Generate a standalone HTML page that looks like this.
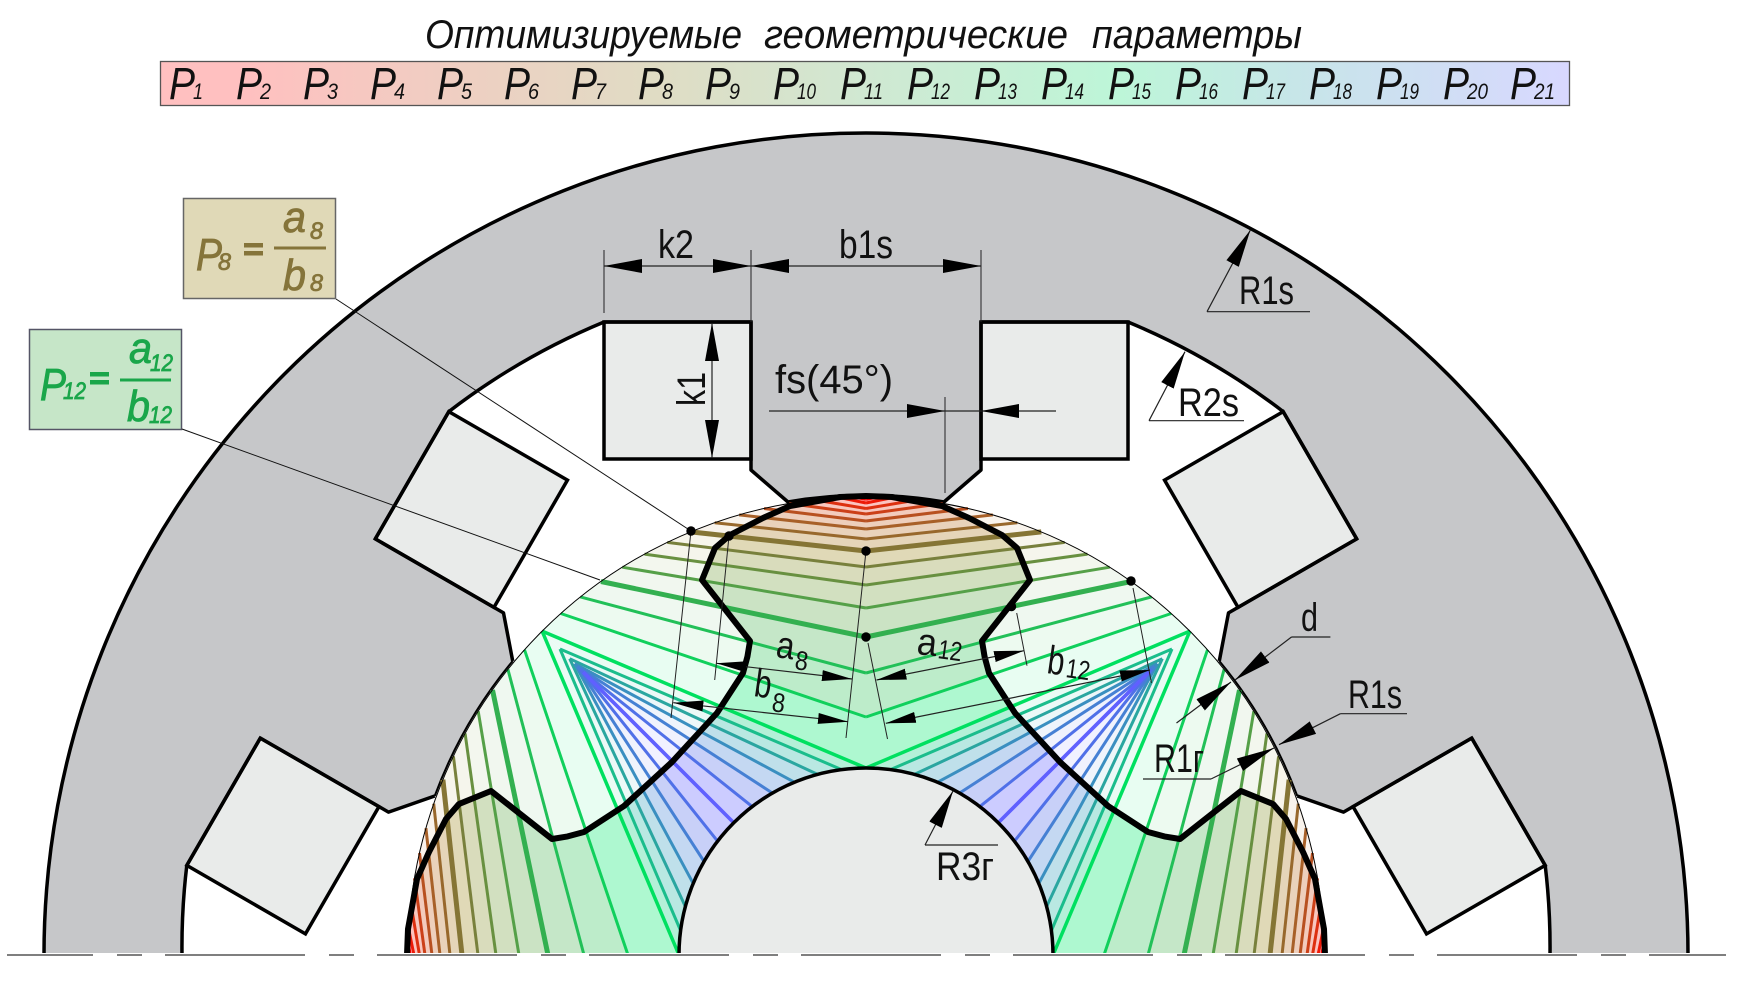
<!DOCTYPE html>
<html><head><meta charset="utf-8"><style>
html,body{margin:0;padding:0;background:#fff}
svg{display:block}
text{font-family:"Liberation Sans","Noto Sans CJK SC",sans-serif;fill:#111}
.i{font-style:italic}
.P{font-style:italic;font-size:45px}
.S{font-style:italic;font-size:22px}
.d{font-size:40px}
.o{fill:#85743a;stroke:#85743a;stroke-width:.8;font-style:italic}
.g{fill:#1aa64a;stroke:#1aa64a;stroke-width:.8;font-style:italic}
.e{stroke:#222;stroke-width:1;fill:none}
.m{stroke:#222;stroke-width:1.2;fill:none}
</style></head><body>
<svg width="1742" height="986" viewBox="0 0 1742 986" xmlns="http://www.w3.org/2000/svg">
<defs>
<linearGradient id="bar"><stop offset="0" stop-color="#ffc0c0"/><stop offset=".06" stop-color="#ffc0c0"/><stop offset=".35" stop-color="#e0dcc4"/><stop offset=".5" stop-color="#d0e8d2"/><stop offset=".68" stop-color="#bdf6d8"/><stop offset=".82" stop-color="#c8e4ea"/><stop offset="1" stop-color="#d8d8ff"/></linearGradient>
<marker id="a" markerUnits="userSpaceOnUse" markerWidth="40" markerHeight="20" refX="38" refY="10" orient="auto-start-reverse" viewBox="0 0 40 20"><path d="M0,3L38,10L0,17Z" fill="#000"/></marker>
<marker id="b" markerUnits="userSpaceOnUse" markerWidth="32" markerHeight="16" refX="30" refY="8" orient="auto-start-reverse" viewBox="0 0 32 16"><path d="M0,2.5L30,8L0,13.5Z" fill="#000"/></marker>
<g id="coil"><path d="M-262,-633H-115V-496H-262Z" fill="#e9ebea" stroke="#000" stroke-width="3.5"/><path d="M115,-633H262V-496H115Z" fill="#e9ebea" stroke="#000" stroke-width="3.5"/></g>
<g id="bands">
<path fill="#ffc0c0" d="M0,-458L-25.7,-457.3L0,-452Z"/>
<path fill="#fcc3bf" d="M0,-452L-25.7,-457.3A458,458 0 0 0 -51.3,-455.1L0,-446.5Z"/>
<path fill="#f8c7be" d="M0,-446.5L-51.3,-455.1A458,458 0 0 0 -76.7,-451.5L0,-441Z"/>
<path fill="#f3cbbd" d="M0,-441L-76.7,-451.5A458,458 0 0 0 -101.9,-446.5L0,-434Z"/>
<path fill="#eecfbc" d="M0,-434L-101.9,-446.5A458,458 0 0 0 -126.8,-440.1L0,-426Z"/>
<path fill="#e9d2bb" d="M0,-426L-126.8,-440.1A458,458 0 0 0 -151.3,-432.3L0,-416Z"/>
<path fill="#e5d5b9" d="M0,-416L-151.3,-432.3A458,458 0 0 0 -175.3,-423.1L0,-404Z"/>
<path fill="#e0d9b7" d="M0,-404L-175.3,-423.1A458,458 0 0 0 -198.7,-412.6L0,-388Z"/>
<path fill="#d9dcbc" d="M0,-388L-198.7,-412.6A458,458 0 0 0 -221.5,-400.9L0,-370Z"/>
<path fill="#d2e0c0" d="M0,-370L-221.5,-400.9A458,458 0 0 0 -243.7,-387.8L0,-347Z"/>
<path fill="#cbe3c4" d="M0,-347L-243.7,-387.8A458,458 0 0 0 -265,-373.5L0,-318Z"/>
<path fill="#c5e7c8" d="M0,-318L-265,-373.5A458,458 0 0 0 -285.6,-358.1L0,-282Z"/>
<path fill="#bdecca" d="M0,-282L-285.6,-358.1A458,458 0 0 0 -305.2,-341.5L0,-238Z"/>
<path fill="#aef8d0" d="M0,-238L-305.2,-341.5A458,458 0 0 0 -323.9,-323.9L0,-187Z"/>
<path fill="#b4f0d8" d="M0,-187L-323.9,-323.9L-306,-306L-24.4,-185.4Z"/>
<path fill="#b9e8e2" d="M-24.4,-185.4L-306,-306L-296.3,-296.3L-48.4,-180.6Z"/>
<path fill="#bfe0ea" d="M-48.4,-180.6L-296.3,-296.3L-291.3,-291.3L-71.6,-172.8Z"/>
<path fill="#c4d8f2" d="M-71.6,-172.8L-291.3,-291.3L-288.5,-288.5L-93.5,-161.9Z"/>
<path fill="#c8d0f8" d="M-93.5,-161.9L-288.5,-288.5L-285.7,-285.7L-113.8,-148.4Z"/>
<path fill="#ccccff" d="M-113.8,-148.4L-285.7,-285.7L-282.8,-282.8L-132.2,-132.2Z"/>
</g>
<g id="lines" fill="none" stroke-width="3">
<path stroke="#ff0000" stroke-width="3.5" d="M0,-456L-10,-457.8"/>
<path stroke="#ee1a08" d="M0,-452L-25.7,-457.3"/>
<path stroke="#dd3010" d="M0,-446.5L-51.3,-455.1"/>
<path stroke="#cc4018" d="M0,-441L-76.7,-451.5"/>
<path stroke="#b85020" d="M0,-434L-101.9,-446.5"/>
<path stroke="#a86028" d="M0,-426L-126.8,-440.1"/>
<path stroke="#98682c" d="M0,-416L-151.3,-432.3"/>
<path stroke="#857535" stroke-width="5" d="M0,-404L-175.3,-423.1"/>
<path stroke="#78803c" d="M0,-388L-198.7,-412.6"/>
<path stroke="#689040" d="M0,-370L-221.5,-400.9"/>
<path stroke="#55a048" d="M0,-347L-243.7,-387.8"/>
<path stroke="#33b050" stroke-width="5" d="M0,-318L-265,-373.5"/>
<path stroke="#22c058" d="M0,-282L-285.6,-358.1"/>
<path stroke="#10d05c" d="M0,-238L-305.2,-341.5"/>
<path stroke="#00e060" stroke-width="3.5" d="M0,-187L-323.9,-323.9"/>
<path stroke="#1bbd8c" d="M-24.4,-185.4L-306,-306"/>
<path stroke="#2aa6a0" d="M-48.4,-180.6L-296.3,-296.3"/>
<path stroke="#3a8fc0" d="M-71.6,-172.8L-291.3,-291.3"/>
<path stroke="#4680d4" d="M-93.5,-161.9L-288.5,-288.5"/>
<path stroke="#5070e8" d="M-113.8,-148.4L-285.7,-285.7"/>
<path stroke="#6060ff" stroke-width="3.5" d="M-132.2,-132.2L-282.8,-282.8"/>
</g>
</defs>

<text class="i" x="425" y="48" font-size="40" textLength="317" lengthAdjust="spacingAndGlyphs">Оптимизируемые</text>
<text class="i" x="764" y="48" font-size="40" textLength="304" lengthAdjust="spacingAndGlyphs">геометрические</text>
<text class="i" x="1092" y="48" font-size="40" textLength="210" lengthAdjust="spacingAndGlyphs">параметры</text>

<rect x="160.5" y="61.5" width="1409" height="44" fill="url(#bar)" stroke="#555" stroke-width="1.3"/>
<g>
<text class="P" x="169" y="99" textLength="26" lengthAdjust="spacingAndGlyphs">P</text><text class="S" x="193" y="99" textLength="10" lengthAdjust="spacingAndGlyphs">1</text>
<text class="P" x="236" y="99" textLength="26" lengthAdjust="spacingAndGlyphs">P</text><text class="S" x="260" y="99" textLength="11" lengthAdjust="spacingAndGlyphs">2</text>
<text class="P" x="303" y="99" textLength="26" lengthAdjust="spacingAndGlyphs">P</text><text class="S" x="327" y="99" textLength="11" lengthAdjust="spacingAndGlyphs">3</text>
<text class="P" x="370" y="99" textLength="26" lengthAdjust="spacingAndGlyphs">P</text><text class="S" x="394" y="99" textLength="11" lengthAdjust="spacingAndGlyphs">4</text>
<text class="P" x="437" y="99" textLength="26" lengthAdjust="spacingAndGlyphs">P</text><text class="S" x="461" y="99" textLength="11" lengthAdjust="spacingAndGlyphs">5</text>
<text class="P" x="504" y="99" textLength="26" lengthAdjust="spacingAndGlyphs">P</text><text class="S" x="528" y="99" textLength="11" lengthAdjust="spacingAndGlyphs">6</text>
<text class="P" x="571" y="99" textLength="26" lengthAdjust="spacingAndGlyphs">P</text><text class="S" x="595" y="99" textLength="11" lengthAdjust="spacingAndGlyphs">7</text>
<text class="P" x="638" y="99" textLength="26" lengthAdjust="spacingAndGlyphs">P</text><text class="S" x="662" y="99" textLength="11" lengthAdjust="spacingAndGlyphs">8</text>
<text class="P" x="705" y="99" textLength="26" lengthAdjust="spacingAndGlyphs">P</text><text class="S" x="729" y="99" textLength="11" lengthAdjust="spacingAndGlyphs">9</text>
<text class="P" x="773" y="99" textLength="26" lengthAdjust="spacingAndGlyphs">P</text><text class="S" x="797" y="99" textLength="19" lengthAdjust="spacingAndGlyphs">10</text>
<text class="P" x="840" y="99" textLength="26" lengthAdjust="spacingAndGlyphs">P</text><text class="S" x="864" y="99" textLength="19" lengthAdjust="spacingAndGlyphs">11</text>
<text class="P" x="907" y="99" textLength="26" lengthAdjust="spacingAndGlyphs">P</text><text class="S" x="931" y="99" textLength="19" lengthAdjust="spacingAndGlyphs">12</text>
<text class="P" x="974" y="99" textLength="26" lengthAdjust="spacingAndGlyphs">P</text><text class="S" x="998" y="99" textLength="19" lengthAdjust="spacingAndGlyphs">13</text>
<text class="P" x="1041" y="99" textLength="26" lengthAdjust="spacingAndGlyphs">P</text><text class="S" x="1065" y="99" textLength="19" lengthAdjust="spacingAndGlyphs">14</text>
<text class="P" x="1108" y="99" textLength="26" lengthAdjust="spacingAndGlyphs">P</text><text class="S" x="1132" y="99" textLength="19" lengthAdjust="spacingAndGlyphs">15</text>
<text class="P" x="1175" y="99" textLength="26" lengthAdjust="spacingAndGlyphs">P</text><text class="S" x="1199" y="99" textLength="19" lengthAdjust="spacingAndGlyphs">16</text>
<text class="P" x="1242" y="99" textLength="26" lengthAdjust="spacingAndGlyphs">P</text><text class="S" x="1266" y="99" textLength="19" lengthAdjust="spacingAndGlyphs">17</text>
<text class="P" x="1309" y="99" textLength="26" lengthAdjust="spacingAndGlyphs">P</text><text class="S" x="1333" y="99" textLength="19" lengthAdjust="spacingAndGlyphs">18</text>
<text class="P" x="1376" y="99" textLength="26" lengthAdjust="spacingAndGlyphs">P</text><text class="S" x="1400" y="99" textLength="19" lengthAdjust="spacingAndGlyphs">19</text>
<text class="P" x="1443" y="99" textLength="26" lengthAdjust="spacingAndGlyphs">P</text><text class="S" x="1467" y="99" textLength="21" lengthAdjust="spacingAndGlyphs">20</text>
<text class="P" x="1510" y="99" textLength="26" lengthAdjust="spacingAndGlyphs">P</text><text class="S" x="1534" y="99" textLength="21" lengthAdjust="spacingAndGlyphs">21</text>
</g>

<g transform="translate(866,955)">
<!-- stator -->
<path fill="#c6c7c9" d="M-822,0A822,822 0 0 1 822,0L684,0A685,685 0 0 0 679.2,-89.6L605.7,-216.9L477.5,-142.9L431.3,-159A461,461 0 0 0 353.3,-294L362.5,-342.1L490.7,-416.1L417.2,-543.4A685,685 0 0 0 262,-633L115,-633L115,-485L78,-453A461,461 0 0 0 -78,-453L-115,-485L-115,-633L-262,-633A685,685 0 0 0 -417.2,-543.4L-490.7,-416.1L-362.5,-342.1L-353.3,-294A461,461 0 0 0 -431.3,-159L-477.5,-142.9L-605.7,-216.9L-679.2,-89.6A685,685 0 0 0 -684,0Z"/>
<use href="#coil"/>
<use href="#coil" transform="rotate(-60)"/>
<use href="#coil" transform="rotate(60)"/>
<path fill="none" stroke="#000" stroke-width="3.5" d="M-822,0A822,822 0 0 1 822,0"/>
<path fill="none" stroke="#000" stroke-width="3.5" stroke-linejoin="round" d="M684,0A685,685 0 0 0 679.2,-89.6L605.7,-216.9L477.5,-142.9L431.3,-159M353.3,-294L362.5,-342.1L490.7,-416.1L417.2,-543.4A685,685 0 0 0 262,-633L115,-633L115,-485L78,-453A461,461 0 0 0 -78,-453L-115,-485L-115,-633L-262,-633A685,685 0 0 0 -417.2,-543.4L-490.7,-416.1L-362.5,-342.1L-353.3,-294M-431.3,-159L-477.5,-142.9L-605.7,-216.9L-679.2,-89.6A685,685 0 0 0 -684,0"/>
<path fill="none" stroke="#000" stroke-width="2" d="M431.3,-159A461,461 0 0 0 353.3,-294M-353.3,-294A461,461 0 0 0 -431.3,-159"/>

<!-- rotor bands -->
<use href="#bands"/>
<use href="#bands" transform="matrix(-1,0,0,1,0,0)"/>
<use href="#bands" transform="matrix(0,1,1,0,0,0)"/>
<use href="#bands" transform="matrix(0,1,-1,0,0,0)"/>
<path fill="#fff" fill-opacity=".72" fill-rule="evenodd" d="M-458,0A458,458 0 0 1 458,0ZM-459,0L-458,-26L-454,-48L-449,-76L-437,-103L-420,-136L-407,-151L-375,-164L-314,-116L-298.3,-118.6L-282,-123L-242,-149L-194,-193L-149,-242L-123,-282L-118.6,-298.3L-116,-314L-164,-375L-151,-407L-136,-420L-103,-437L-76,-449L-48,-454L-26,-458L0,-459L26,-458L48,-454L76,-449L103,-437L136,-420L151,-407L164,-375L116,-314L118.6,-298.3L123,-282L149,-242L194,-193L242,-149L282,-123L298.3,-118.6L314,-116L375,-164L407,-151L420,-136L437,-103L449,-76L454,-48L458,-26L459,0Z"/>
<use href="#lines"/>
<use href="#lines" transform="matrix(-1,0,0,1,0,0)"/>
<use href="#lines" transform="matrix(0,1,1,0,0,0)"/>
<use href="#lines" transform="matrix(0,1,-1,0,0,0)"/>
<path fill="none" stroke="#000" stroke-width="1" d="M-458,0A458,458 0 0 1 458,0"/>
<path fill="#e9ebea" stroke="#000" stroke-width="3.5" d="M-187,0A187,187 0 0 1 187,0Z"/>
<path fill="none" stroke="#000" stroke-width="6" stroke-linejoin="round" stroke-linecap="round" d="M-459,0L-458,-26L-454,-48L-449,-76L-437,-103L-420,-136L-407,-151L-375,-164L-314,-116L-298.3,-118.6L-282,-123L-242,-149L-194,-193L-149,-242L-123,-282L-118.6,-298.3L-116,-314L-164,-375L-151,-407L-136,-420L-103,-437L-76,-449L-48,-454L-26,-458L0,-459L26,-458L48,-454L76,-449L103,-437L136,-420L151,-407L164,-375L116,-314L118.6,-298.3L123,-282L149,-242L194,-193L242,-149L282,-123L298.3,-118.6L314,-116L375,-164L407,-151L420,-136L437,-103L449,-76L454,-48L458,-26L459,0"/>
</g>

<!-- below-axis cleanup and centre line -->
<rect x="0" y="957" width="1742" height="29" fill="#fff"/>
<line x1="7" y1="955" x2="1726" y2="955" stroke="#fff" stroke-width="4"/>
<line x1="7" y1="955" x2="1726" y2="955" stroke="#555" stroke-width="1.6" stroke-dasharray="140 24 25 23" stroke-dashoffset="54"/>

<!-- callouts -->
<rect x="183.5" y="198.5" width="152" height="100" fill="#e0d9b7" stroke="#666" stroke-width="1.5"/>
<text class="o" x="196" y="270" font-size="45" textLength="26" lengthAdjust="spacingAndGlyphs">P</text>
<text class="o" x="218" y="270" font-size="24" textLength="13" lengthAdjust="spacingAndGlyphs">8</text>
<rect x="244" y="243" width="19" height="4.5" fill="#85743a"/><rect x="244" y="251" width="19" height="4.5" fill="#85743a"/>
<rect x="274" y="246.5" width="52" height="3" fill="#85743a"/>
<text class="o" x="283" y="232" font-size="44" textLength="23" lengthAdjust="spacingAndGlyphs">a</text>
<text class="o" x="310" y="239" font-size="24" textLength="13" lengthAdjust="spacingAndGlyphs">8</text>
<text class="o" x="283" y="290" font-size="44" textLength="23" lengthAdjust="spacingAndGlyphs">b</text>
<text class="o" x="310" y="291" font-size="24" textLength="13" lengthAdjust="spacingAndGlyphs">8</text>

<rect x="29.5" y="329.5" width="152" height="100" fill="#c6e6c8" stroke="#556" stroke-width="1.5"/>
<text class="g" x="40" y="400" font-size="45" textLength="26" lengthAdjust="spacingAndGlyphs">P</text>
<text class="g" x="63" y="399" font-size="24" textLength="23" lengthAdjust="spacingAndGlyphs">12</text>
<rect x="90" y="372" width="19" height="4.5" fill="#1aa64a"/><rect x="90" y="380" width="19" height="4.5" fill="#1aa64a"/>
<rect x="120" y="378.5" width="51" height="3" fill="#1aa64a"/>
<text class="g" x="129" y="363" font-size="44" textLength="23" lengthAdjust="spacingAndGlyphs">a</text>
<text class="g" x="150" y="371" font-size="24" textLength="23" lengthAdjust="spacingAndGlyphs">12</text>
<text class="g" x="127" y="421" font-size="44" textLength="23" lengthAdjust="spacingAndGlyphs">b</text>
<text class="g" x="149" y="423" font-size="24" textLength="23" lengthAdjust="spacingAndGlyphs">12</text>

<line x1="336" y1="299" x2="691" y2="531" stroke="#111" stroke-width="1"/>
<line x1="182" y1="429" x2="600" y2="580" stroke="#111" stroke-width="1"/>

<!-- top dimensions -->
<path class="e" d="M604,250V313M751,250V322M981,250V322"/>
<line class="m" x1="604" y1="266" x2="751" y2="266" marker-start="url(#a)" marker-end="url(#a)"/>
<line class="m" x1="751" y1="266" x2="981" y2="266" marker-start="url(#a)" marker-end="url(#a)"/>
<text class="d" x="658" y="258" textLength="36" lengthAdjust="spacingAndGlyphs">k2</text>
<text class="d" x="839" y="258" textLength="54" lengthAdjust="spacingAndGlyphs">b1s</text>
<line class="m" x1="712" y1="323" x2="712" y2="458" marker-start="url(#a)" marker-end="url(#a)"/>
<text class="d" transform="translate(705,406) rotate(-90)" textLength="34" lengthAdjust="spacingAndGlyphs">k1</text>
<text class="d" x="775" y="393" textLength="118" lengthAdjust="spacingAndGlyphs">fs(45°)</text>
<line class="m" x1="769" y1="411" x2="945" y2="411" marker-end="url(#a)"/>
<line class="m" x1="1056" y1="411" x2="981" y2="411" marker-end="url(#a)"/>
<path class="m" d="M945,411H981"/>
<path class="e" d="M945,397V493"/>

<!-- radius labels -->
<line class="m" x1="1207" y1="311.7" x2="1250.4" y2="230" marker-end="url(#a)"/>
<line class="m" x1="1207" y1="311.7" x2="1310" y2="311.7"/>
<text class="d" x="1239" y="304" textLength="55" lengthAdjust="spacingAndGlyphs">R1s</text>
<line class="m" x1="1149" y1="420.7" x2="1185" y2="351.7" marker-end="url(#a)"/>
<line class="m" x1="1149" y1="420.7" x2="1244" y2="420.7"/>
<text class="d" x="1178" y="416" textLength="61" lengthAdjust="spacingAndGlyphs">R2s</text>
<path class="m" d="M1330.4,637H1291.5"/>
<line class="m" x1="1291.5" y1="637" x2="1235" y2="680" marker-end="url(#a)"/>
<line class="m" x1="1176.5" y1="723" x2="1231" y2="682" marker-end="url(#a)"/>
<text class="d" x="1301" y="631" textLength="17" lengthAdjust="spacingAndGlyphs">d</text>
<path class="m" d="M1407,713.7H1340.4"/>
<line class="m" x1="1340.4" y1="713.7" x2="1279" y2="744.7" marker-end="url(#a)"/>
<text class="d" x="1348" y="708" textLength="54" lengthAdjust="spacingAndGlyphs">R1s</text>
<path class="m" d="M1143,779H1211"/>
<line class="m" x1="1211" y1="779" x2="1274" y2="748" marker-end="url(#a)"/>
<text class="d" x="1154" y="772" textLength="50" lengthAdjust="spacingAndGlyphs">R1г</text>
<path class="m" d="M998,845H925"/>
<line class="m" x1="925" y1="845" x2="953" y2="791" marker-end="url(#a)"/>
<text class="d" x="936" y="880" textLength="58" lengthAdjust="spacingAndGlyphs">R3г</text>

<!-- a/b dimensions -->
<path class="e" d="M691,531L671,718M729,536L714.7,680M866,551L846,738M868,643L887.5,739M1016.7,613L1027,665.7M1133,588L1151.5,683"/>
<line class="m" x1="716.4" y1="663.3" x2="852" y2="679" marker-start="url(#b)" marker-end="url(#b)"/>
<line class="m" x1="673.3" y1="702.7" x2="848" y2="721.7" marker-start="url(#b)" marker-end="url(#b)"/>
<line class="m" x1="876.5" y1="680" x2="1024" y2="650.7" marker-start="url(#b)" marker-end="url(#b)"/>
<line class="m" x1="885.8" y1="723.3" x2="1150" y2="670" marker-start="url(#b)" marker-end="url(#b)"/>
<text transform="translate(775,657) rotate(8)" font-size="38" textLength="18" lengthAdjust="spacingAndGlyphs">a</text>
<text transform="translate(794,669) rotate(8)" font-size="27" textLength="13" lengthAdjust="spacingAndGlyphs">8</text>
<text transform="translate(753,696) rotate(8)" font-size="40" textLength="17" lengthAdjust="spacingAndGlyphs">b</text>
<text transform="translate(771,711) rotate(8)" font-size="27" textLength="13" lengthAdjust="spacingAndGlyphs">8</text>
<text transform="translate(916,654) rotate(6)" font-size="38" textLength="20" lengthAdjust="spacingAndGlyphs">a</text>
<text transform="translate(937,658) rotate(8)" font-size="27" textLength="24" lengthAdjust="spacingAndGlyphs">12</text>
<text transform="translate(1046,673) rotate(8)" font-size="40" textLength="17" lengthAdjust="spacingAndGlyphs">b</text>
<text transform="translate(1065,677) rotate(8)" font-size="27" textLength="24" lengthAdjust="spacingAndGlyphs">12</text>

<!-- dots -->
<g fill="#000"><circle cx="691" cy="531" r="4.7"/><circle cx="729" cy="536" r="4.7"/><circle cx="866" cy="551" r="4.7"/><circle cx="866" cy="637" r="4.7"/><circle cx="1011.5" cy="606.5" r="4.7"/><circle cx="1131" cy="581" r="4.7"/></g>
</svg>
</body></html>
